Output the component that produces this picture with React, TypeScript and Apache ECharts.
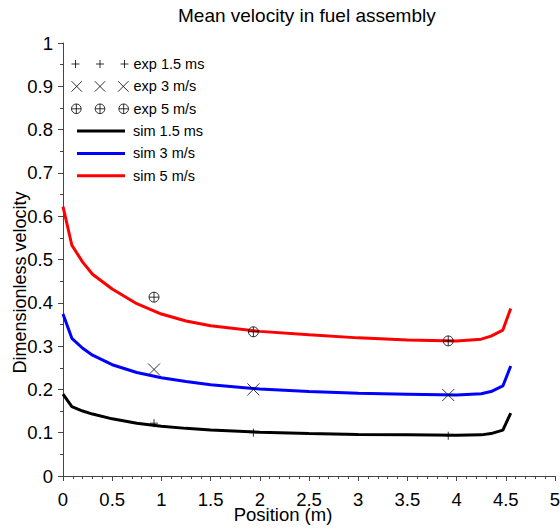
import React, { useEffect, useRef } from "react";
import * as echarts from "echarts";

const simX = [0, 0.09, 0.2, 0.3, 0.5, 0.75, 1, 1.25, 1.5, 2, 2.5, 3, 3.5, 4, 4.25, 4.35, 4.47, 4.55];
const sim15 = [0.189, 0.16, 0.15, 0.143, 0.132, 0.122, 0.115, 0.11, 0.106, 0.101, 0.098, 0.096, 0.095, 0.094, 0.095, 0.098, 0.106, 0.145];
const sim3 = [0.374, 0.318, 0.295, 0.279, 0.257, 0.239, 0.227, 0.218, 0.211, 0.201, 0.195, 0.191, 0.189, 0.187, 0.19, 0.195, 0.208, 0.254];
const sim5 = [0.622, 0.533, 0.494, 0.466, 0.432, 0.398, 0.374, 0.358, 0.347, 0.334, 0.326, 0.319, 0.314, 0.312, 0.316, 0.323, 0.337, 0.387];

const expX = [0.925, 1.935, 3.915];
const exp15 = [0.122, 0.1, 0.093];
const exp3 = [0.246, 0.2, 0.187];
const exp5 = [0.413, 0.333, 0.312];

const FONT = "Liberation Sans, Arial, Helvetica, sans-serif";

const PLUS = "path://M0,4L8,4M4,0L4,8";
const CROSS = "path://M0,0L11,11M0,11L11,0";
const OPLUS = "path://M0,5A5,5,0,1,0,10,5A5,5,0,1,0,0,5M5,0L5,10M0,5L10,5";

function triple(kind: string): string {
  const centers = [4, 28.5, 53];
  let d = "";
  for (const c of centers) {
    if (kind === "plus") {
      d += `M${c - 4},4L${c + 4},4M${c},0L${c},8`;
    } else if (kind === "cross") {
      d += `M${c - 5.5},0L${c + 5.5},11M${c - 5.5},11L${c + 5.5},0`;
    } else {
      d += `M${c - 5},5A5,5,0,1,0,${c + 5},5A5,5,0,1,0,${c - 5},5M${c},0L${c},10M${c - 5},5L${c + 5},5`;
    }
  }
  return "path://" + d;
}

const zip = (xs: number[], ys: number[]) => xs.map((x, i) => [x, ys[i]]);

export default function App() {
  const ref = useRef<HTMLDivElement>(null);
  useEffect(() => {
    if (!ref.current) return;
    const chart = echarts.init(ref.current, undefined, { renderer: "svg" });
    const axisCol = "#444";
    const lineSeries = (name: string, ys: number[], color: string) => ({
      name,
      type: "line",
      data: zip(simX, ys),
      symbol: "none",
      showSymbol: false,
      lineStyle: { color, width: 3 },
      itemStyle: { color },
      z: 2,
    });
    const expSeries = (name: string, ys: number[], symbol: string, size: number) => ({
      name,
      type: "scatter",
      data: zip(expX, ys),
      symbol,
      symbolSize: size,
      itemStyle: { color: "rgba(0,0,0,0)", borderColor: "#000", borderWidth: 1 },
      z: 5,
    });
    chart.setOption({
      animation: false,
      backgroundColor: "#fff",
      title: {
        text: "Mean velocity in fuel assembly",
        left: 178,
        top: 6,
        padding: 0,
        textStyle: { fontFamily: FONT, fontSize: 19, fontWeight: "normal", color: "#000" },
      },
      grid: { left: 63, right: 5, top: 43, bottom: 55, containLabel: false, outerBoundsMode: "none" },
      legend: [
        {
          orient: "vertical",
          left: 71,
          top: 56,
          padding: 0,
          itemWidth: 57,
          itemHeight: 11,
          itemGap: 6.4,
          symbolKeepAspect: true,
          itemStyle: { borderWidth: 1, borderColor: "#000", color: "rgba(0,0,0,0)" },
          textStyle: { fontFamily: FONT, fontSize: 14.5, color: "#000", lineHeight: 16 },
          data: [
            { name: "exp 1.5 ms", icon: triple("plus") },
            { name: "exp 3 m/s", icon: triple("cross") },
            { name: "exp 5 m/s", icon: triple("oplus") },
          ],
        },
        {
          orient: "vertical",
          left: 77,
          top: 123,
          padding: 0,
          itemWidth: 48,
          itemHeight: 3,
          itemGap: 6.4,
          textStyle: { fontFamily: FONT, fontSize: 14.5, color: "#000", lineHeight: 16, padding: [0, 0, 0, 3] },
          data: [
            { name: "sim 1.5 ms", icon: "rect" },
            { name: "sim 3 m/s", icon: "rect" },
            { name: "sim 5 m/s", icon: "rect" },
          ],
        },
      ],
      xAxis: {
        type: "value",
        min: 0,
        max: 5,
        interval: 0.5,
        name: "Position (m)",
        nameLocation: "middle",
        nameGap: 29,
        nameMoveOverlap: false,
        nameTextStyle: { fontFamily: FONT, fontSize: 18.5, color: "#000", padding: [0, 52, 0, 0] },
        axisLine: { show: true, lineStyle: { color: axisCol, width: 1 } },
        axisTick: { show: true, inside: false, length: 5, lineStyle: { color: axisCol } },
        minorTick: { show: true, splitNumber: 5, length: 3, lineStyle: { color: axisCol } },
        axisLabel: { fontFamily: FONT, fontSize: 18.5, color: "#000", margin: 14 },
        splitLine: { show: false },
        minorSplitLine: { show: false },
      },
      yAxis: {
        type: "value",
        min: 0,
        max: 1,
        interval: 0.1,
        name: "Dimensionless velocity",
        nameLocation: "middle",
        nameRotate: 90,
        nameGap: 34,
        nameMoveOverlap: false,
        nameTextStyle: { fontFamily: FONT, fontSize: 18, color: "#000", padding: [0, 46, 0, 0] },
        axisLine: { show: true, lineStyle: { color: axisCol, width: 1 } },
        axisTick: { show: true, inside: false, length: 5, lineStyle: { color: axisCol } },
        minorTick: { show: true, splitNumber: 2, length: 3, lineStyle: { color: axisCol } },
        axisLabel: { fontFamily: FONT, fontSize: 18.5, color: "#000", margin: 10 },
        splitLine: { show: false },
        minorSplitLine: { show: false },
      },
      series: [
        lineSeries("sim 1.5 ms", sim15, "#000000"),
        lineSeries("sim 3 m/s", sim3, "#0000ff"),
        lineSeries("sim 5 m/s", sim5, "#ff0000"),
        expSeries("exp 1.5 ms", exp15, PLUS, 8),
        expSeries("exp 3 m/s", exp3, CROSS, 12),
        expSeries("exp 5 m/s", exp5, OPLUS, 10),
      ],
    });
    return () => chart.dispose();
  }, []);
  return <div ref={ref} style={{ width: 560, height: 531, position: "absolute", left: 0, top: 0 }} />;
}
